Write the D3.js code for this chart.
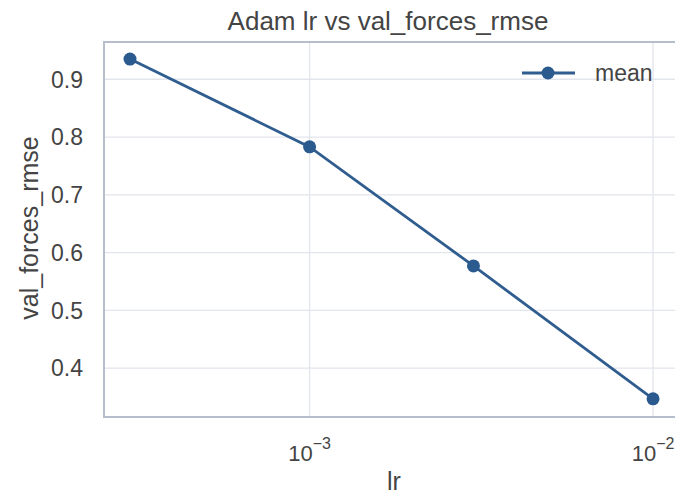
<!DOCTYPE html>
<meta charset="utf-8">
<title>Adam lr vs val_forces_rmse</title>
<style>
body { margin: 0; background: #fff; }
text { font-family: "Liberation Sans", Arial, sans-serif; fill: #444; }
.grid line { stroke: #e2e5ec; stroke-width: 1.3px; }
.frame { fill: none; stroke: #b6bdcb; stroke-width: 2px; }
</style>
<body>
<div id="chart"></div>
<script src="https://cdn.jsdelivr.net/npm/d3@7"></script>
<script>
// data
var lr = [3e-4, 1e-3, 3e-3, 1e-2];
var rmse = [0.935, 0.783, 0.577, 0.347];
var xTicks = [1e-3, 1e-2];
var yTicks = [0.4, 0.5, 0.6, 0.7, 0.8, 0.9];
var seriesName = "mean";

var width = 675, height = 497;
var margin = {top: 42, left: 104, bottom: 80, right: -4};

var svg = d3.select("#chart").append("svg")
    .attr("width", width)
    .attr("height", height);

var x = d3.scaleLog()
    .domain([2.52e-4, 1.19e-2])
    .range([margin.left, width - margin.right]);

var y = d3.scaleLinear()
    .domain([0.3155, 0.9645])
    .range([height - margin.bottom, margin.top]);

// grid
var grid = svg.append("g").attr("class", "grid");
grid.selectAll(".gx").data(xTicks).enter().append("line")
    .attr("x1", function(d) { return x(d); })
    .attr("x2", function(d) { return x(d); })
    .attr("y1", y.range()[1])
    .attr("y2", y.range()[0]);
grid.selectAll(".gy").data(yTicks).enter().append("line")
    .attr("x1", x.range()[0])
    .attr("x2", x.range()[1])
    .attr("y1", function(d) { return y(d); })
    .attr("y2", function(d) { return y(d); });

svg.append("rect")
    .attr("class", "frame")
    .attr("x", x.range()[0])
    .attr("y", y.range()[1])
    .attr("width", x.range()[1] - x.range()[0])
    .attr("height", y.range()[0] - y.range()[1]);

// y tick labels
svg.selectAll(".ytick").data(yTicks).enter().append("text")
    .attr("x", 83)
    .attr("y", function(d) { return y(d); })
    .attr("dy", "0.36em")
    .attr("text-anchor", "end")
    .style("font-size", "23px")
    .text(function(d) { return d.toFixed(1); });

// x tick labels as 10^n
var xl = svg.selectAll(".xtick").data(xTicks).enter().append("text")
    .attr("x", function(d) { return x(d); })
    .attr("y", 461)
    .attr("text-anchor", "middle")
    .style("font-size", "22px");
xl.append("tspan").text("10");
xl.append("tspan")
    .attr("dy", "-0.72em")
    .style("font-size", "16px")
    .text(function(d) { return "\u2212" + Math.round(-Math.log10(d)); });

// line + markers
var line = d3.line()
    .x(function(d, i) { return x(lr[i]); })
    .y(function(d) { return y(d); });

svg.append("path")
    .datum(rmse)
    .attr("fill", "none")
    .attr("stroke", "#2f5d8f")
    .attr("stroke-width", 2.8)
    .attr("d", line);

svg.selectAll(".pt").data(rmse).enter().append("circle")
    .attr("cx", function(d, i) { return x(lr[i]); })
    .attr("cy", function(d) { return y(d); })
    .attr("r", 6.5)
    .attr("fill", "#2a5a8e");

// legend
var lg = svg.append("g").attr("transform", "translate(522,73)");
lg.append("line").attr("x1", 0).attr("x2", 53).attr("y1", 0).attr("y2", 0)
    .attr("stroke", "#2f5d8f").attr("stroke-width", 2.8);
lg.append("circle").attr("cx", 26).attr("cy", 0).attr("r", 6.5).attr("fill", "#2a5a8e");
lg.append("text").attr("x", 73).attr("y", 0).attr("dy", "0.36em")
    .style("font-size", "23px").text(seriesName);

// title and axis labels
svg.append("text")
    .attr("x", 388).attr("y", 30)
    .attr("text-anchor", "middle")
    .style("font-size", "26px")
    .text("Adam lr vs val_forces_rmse");

svg.append("text")
    .attr("x", 394).attr("y", 490)
    .attr("text-anchor", "middle")
    .style("font-size", "25px")
    .text("lr");

svg.append("text")
    .attr("transform", "translate(38,228) rotate(-90)")
    .attr("text-anchor", "middle")
    .style("font-size", "25px")
    .text("val_forces_rmse");
</script>
</body>
